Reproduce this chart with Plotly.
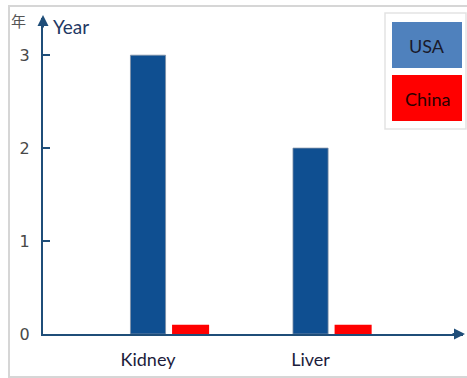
import plotly.graph_objects as go

# Data
categories = ["Kidney", "Liver"]
series_names = ["USA", "China"]
usa_years = [3.0, 2.0]
china_years = [0.1, 0.1]
y_ticks = [0, 1, 2, 3]

W, H = 467, 378
L, R, T, B = 43, 4, 18, 44
PW, PH = W - L - R, H - T - B


def px_x(px):
    return (px - L) / PW


def px_y(py):
    return (H - B - py) / PH


BAR_BLUE = "#0f4f91"
LEG_BLUE = "#4f81bd"
RED = "#ff0000"
AXIS = "#1f4e79"

fig = go.Figure()
fig.add_trace(go.Bar(
    x=categories, y=usa_years, name=series_names[0],
    offset=-0.108, width=0.216,
    marker=dict(color=BAR_BLUE, line=dict(color="#7f8fa6", width=0.8)),
))
fig.add_trace(go.Bar(
    x=categories, y=china_years, name=series_names[1],
    offset=0.148, width=0.228,
    marker=dict(color=RED, line=dict(width=0)),
))

fig.update_layout(
    width=W, height=H,
    margin=dict(l=L, r=R, t=T, b=B),
    paper_bgcolor="white", plot_bgcolor="white",
    showlegend=False,
    barmode="overlay",
    xaxis=dict(
        range=[-0.646, 1.938], showgrid=False, zeroline=False,
        showline=True, linecolor=AXIS, linewidth=2,
        ticks="", tickfont=dict(family="Lato", size=18, color="#1c1c3c"),
        ticklabelstandoff=8,
    ),
    yaxis=dict(
        range=[0, 3.4], showgrid=False, zeroline=False,
        showline=True, linecolor=AXIS, linewidth=2,
        tickvals=y_ticks, ticktext=[str(v) for v in y_ticks],
        ticks="inside", ticklen=7, tickcolor=AXIS, tickwidth=1.5,
        tickfont=dict(family="DejaVu Sans", size=16, color="#484848"),
        ticklabelstandoff=8,
    ),
)

shapes = []
# outer frame
shapes.append(dict(type="rect", xref="paper", yref="paper",
                   x0=px_x(9), x1=px_x(470), y0=px_y(377), y1=px_y(6),
                   line=dict(color="#d6d6d6", width=2), layer="below"))
# legend box and swatches
shapes.append(dict(type="rect", xref="paper", yref="paper",
                   x0=px_x(385), x1=px_x(466), y0=px_y(129), y1=px_y(13),
                   line=dict(color="#e3e3e3", width=1.5), fillcolor="white"))
shapes.append(dict(type="rect", xref="paper", yref="paper",
                   x0=px_x(392), x1=px_x(462), y0=px_y(68), y1=px_y(22),
                   line=dict(width=0), fillcolor=LEG_BLUE))
shapes.append(dict(type="rect", xref="paper", yref="paper",
                   x0=px_x(392), x1=px_x(462), y0=px_y(121), y1=px_y(75),
                   line=dict(width=0), fillcolor=RED))
fig.update_layout(shapes=shapes)

ann = []
# axis arrowheads
ann.append(dict(xref="paper", yref="paper", x=px_x(465), y=0, ax=-14, ay=0,
                showarrow=True, arrowhead=2, arrowsize=1.1, arrowwidth=2,
                arrowcolor=AXIS, text=""))
ann.append(dict(xref="paper", yref="paper", x=0, y=px_y(15), ax=0, ay=14,
                showarrow=True, arrowhead=2, arrowsize=1.1, arrowwidth=2,
                arrowcolor=AXIS, text=""))
# axis titles
ann.append(dict(xref="paper", yref="paper", x=px_x(51), y=px_y(26),
                xanchor="left", yanchor="middle", showarrow=False,
                text="Year", font=dict(family="Lato", size=19, color="#1f3864")))
ann.append(dict(xref="paper", yref="paper", x=px_x(18.5), y=px_y(20),
                xanchor="center", yanchor="middle", showarrow=False,
                text="年", font=dict(family="Noto Sans CJK SC", size=15, color="#555555")))
# legend labels
ann.append(dict(xref="paper", yref="paper", x=px_x(427), y=px_y(46),
                xanchor="center", yanchor="middle", showarrow=False,
                text=series_names[0], font=dict(family="Lato", size=18, color="#1a1a2a")))
ann.append(dict(xref="paper", yref="paper", x=px_x(427), y=px_y(99),
                xanchor="center", yanchor="middle", showarrow=False,
                text=series_names[1], font=dict(family="Lato", size=18, color="#2a0000")))
fig.update_layout(annotations=ann)

fig.write_html("out.html")
